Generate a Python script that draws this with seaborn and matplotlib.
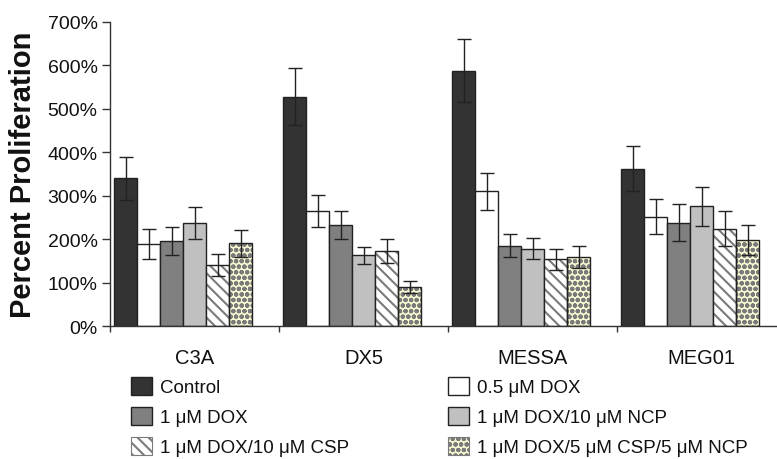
import matplotlib
matplotlib.use("Agg")
import matplotlib.pyplot as plt
from matplotlib.patches import Patch, Rectangle
import pandas as pd
import seaborn as sns

# Cell lines on the x axis and the six treatments drawn in each group
cell_lines = ["C3A", "DX5", "MESSA", "MEG01"]
treatments = [
    "Control",
    "0.5 μM DOX",
    "1 μM DOX",
    "1 μM DOX/10 μM NCP",
    "1 μM DOX/10 μM CSP",
    "1 μM DOX/5 μM CSP/5 μM NCP",
]

# Mean proliferation (%) for each treatment, one value per cell line
control = [340, 528, 588, 362]
dox_05 = [189, 265, 310, 252]
dox_1 = [196, 233, 185, 238]
dox_ncp = [237, 163, 178, 276]
dox_csp = [141, 172, 154, 224]
dox_csp_ncp = [190, 90, 159, 198]

# Error bar half-lengths (%)
control_err = [50, 65, 72, 52]
dox_05_err = [34, 36, 42, 40]
dox_1_err = [32, 32, 26, 43]
dox_ncp_err = [37, 20, 24, 45]
dox_csp_err = [25, 28, 24, 40]
dox_csp_ncp_err = [31, 13, 26, 34]

y_ticks = [0, 100, 200, 300, 400, 500, 600, 700]
y_tick_labels = ["0%", "100%", "200%", "300%", "400%", "500%", "600%", "700%"]

series = [control, dox_05, dox_1, dox_ncp, dox_csp, dox_csp_ncp]
errors = [control_err, dox_05_err, dox_1_err, dox_ncp_err, dox_csp_err, dox_csp_ncp_err]

# Fill styles per treatment
fills = ["#333333", "#ffffff", "#808080", "#c0c0c0", "#ffffff", "#f8f8d2"]
hatches = [None, None, None, None, "\\\\\\", "ooo"]
hatch_color = "#7a7a7a"
edge = "#222222"

sns.set_theme(style="white")
plt.rcParams["font.family"] = ["Liberation Sans", "DejaVu Sans"]
plt.rcParams["hatch.linewidth"] = 1.5

rows = []
for t, vals in zip(treatments, series):
    for c, v in zip(cell_lines, vals):
        rows.append({"cell": c, "treatment": t, "value": v})
df = pd.DataFrame(rows)

fig = plt.figure(figsize=(7.77, 4.60), dpi=100)
ax = fig.add_axes([110 / 777, 133 / 460, 667 / 777, 304 / 460])

group_width = 0.817
sns.barplot(
    data=df, x="cell", y="value", hue="treatment",
    order=cell_lines, hue_order=treatments,
    palette=dict(zip(treatments, fills)), saturation=1,
    width=group_width, errorbar=None, edgecolor=edge, linewidth=1,
    legend=False, ax=ax,
)

for cont, hatch, errs in zip(ax.containers, hatches, errors):
    xs, ys = [], []
    for bar in cont.patches:
        xs.append(bar.get_x() + bar.get_width() / 2)
        ys.append(bar.get_height())
        if hatch:
            bar.set_hatch(hatch)
            bar.set_edgecolor(hatch_color)
            bar.set_linewidth(0)
            ax.add_patch(Rectangle((bar.get_x(), 0), bar.get_width(), bar.get_height(),
                                   fill=False, edgecolor=edge, linewidth=1,
                                   zorder=bar.get_zorder() + 0.1))
    ax.errorbar(xs, ys, yerr=errs, fmt="none", ecolor=edge, elinewidth=1,
                capsize=5, capthick=1, zorder=5)

# Category boundaries sit just left of each bar group; labels centred between them
left_edge = -group_width / 2 - 0.024
n = len(cell_lines)
ax.set_xlim(left_edge, left_edge + 667 / 169)
ax.set_xticks([i + left_edge + 0.5 for i in range(n)], cell_lines)
ax.set_xticks([i + left_edge for i in range(n)], minor=True)
ax.tick_params(axis="x", which="major", length=0, pad=16, labelsize=14.5, labelcolor="#111111")
ax.tick_params(axis="x", which="minor", bottom=True, length=4, width=1, color="#333333",
               direction="out")

ax.set_ylim(0, 700)
ax.set_yticks(y_ticks, y_tick_labels)
ax.tick_params(axis="y", left=True, length=6, width=1, color="#333333", pad=3,
               labelsize=14, labelcolor="#111111", direction="out")

for side in ["top", "right"]:
    ax.spines[side].set_visible(False)
for side in ["left", "bottom"]:
    ax.spines[side].set_color("#333333")
    ax.spines[side].set_linewidth(1)

ax.set_xlabel("")
ax.set_ylabel("Percent Proliferation", fontsize=21, fontweight="bold", va="center",
              color="#111111")
ax.yaxis.set_label_coords(-0.13, 0.5)

# Legend in two columns, built from the same fill styles
def swatch(i):
    if hatches[i]:
        return Patch(facecolor=fills[i], edgecolor=hatch_color, hatch=hatches[i], linewidth=0.8)
    return Patch(facecolor=fills[i], edgecolor=edge, linewidth=1)

leg_kw = dict(loc="upper left", bbox_transform=fig.transFigure, frameon=False,
              borderpad=0, borderaxespad=0, handlelength=1.12, handleheight=1.12,
              handletextpad=0.45, labelspacing=0.55, fontsize=13.5, labelcolor="#111111")
for col, x0 in zip([[0, 2, 4], [1, 3, 5]], [131, 448]):
    fig.legend(handles=[swatch(i) for i in col], labels=[treatments[i] for i in col],
               bbox_to_anchor=(x0 / 777, 1 - 378 / 460), **leg_kw)

fig.savefig("out.png", dpi=100)
